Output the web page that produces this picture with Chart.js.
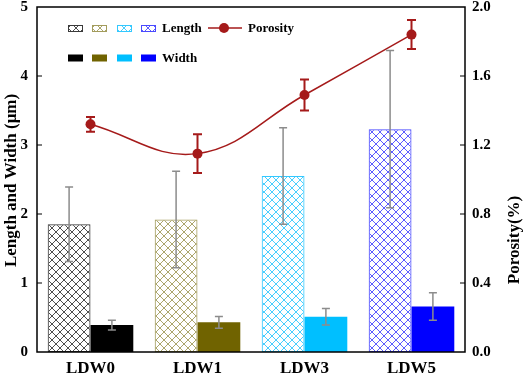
<!DOCTYPE html>
<html><head><meta charset="utf-8">
<script src="https://cdn.jsdelivr.net/npm/chart.js@4.4.0/dist/chart.umd.min.js"></script>
<style>html,body{margin:0;padding:0;background:#fff;}canvas{display:block;}</style>
</head><body>
<canvas id="c" width="526" height="375" style="width:526px;height:375px"></canvas>
<script>
const categories = ['LDW0', 'LDW1', 'LDW3', 'LDW5'];
const lengthValues = [1.85, 1.92, 2.55, 3.23];
const lengthErrors = [0.54, 0.70, 0.70, 1.14];
const widthValues = [0.39, 0.43, 0.51, 0.66];
const widthErrors = [0.07, 0.085, 0.12, 0.20];
const porosityValues = [1.32, 1.15, 1.49, 1.84];
const porosityErrors = [0.043, 0.113, 0.09, 0.084];
const leftTickValues = [0, 1, 2, 3, 4, 5];
const rightTickValues = [0, 0.4, 0.8, 1.2, 1.6, 2.0];

const hatchColors = ['#3a3a3a', '#a39c5c', '#33c8ff', '#4a4aff'];
const widthColors = ['#000000', '#706300', '#00bfff', '#0000ff'];
const poroColor = '#a51a1a';
const serif = '"Liberation Serif", "Times New Roman", serif';

function hatch(color) {
  const t = document.createElement('canvas');
  t.width = 8; t.height = 8;
  const g = t.getContext('2d');
  g.strokeStyle = color; g.lineWidth = 0.9;
  g.beginPath();
  g.moveTo(-1, -1); g.lineTo(9, 9);
  g.moveTo(-1, 9); g.lineTo(9, -1);
  g.stroke();
  return g.createPattern(t, 'repeat');
}
const hatchPatterns = hatchColors.map(hatch);

const decor = {
  id: 'decor',
  afterDatasetsDraw(chart) {
    const ctx = chart.ctx;
    const a = chart.chartArea;
    const ys = chart.scales.y, yr = chart.scales.y1;
    ctx.save();
    function eb(x, yTop, yBot, color, cap, lw) {
      ctx.strokeStyle = color; ctx.lineWidth = lw;
      ctx.beginPath();
      ctx.moveTo(x, yTop); ctx.lineTo(x, yBot);
      ctx.moveTo(x - cap, yTop); ctx.lineTo(x + cap, yTop);
      ctx.moveTo(x - cap, yBot); ctx.lineTo(x + cap, yBot);
      ctx.stroke();
    }
    const m0 = chart.getDatasetMeta(0), m1 = chart.getDatasetMeta(1), m2 = chart.getDatasetMeta(2);
    lengthValues.forEach((v, i) => {
      eb(m0.data[i].x, ys.getPixelForValue(v + lengthErrors[i]), ys.getPixelForValue(v - lengthErrors[i]), '#8c8c8c', 4, 1.5);
    });
    widthValues.forEach((v, i) => {
      eb(m1.data[i].x, ys.getPixelForValue(v + widthErrors[i]), ys.getPixelForValue(v - widthErrors[i]), '#8c8c8c', 4, 1.5);
    });
    porosityValues.forEach((v, i) => {
      eb(m2.data[i].x, yr.getPixelForValue(v + porosityErrors[i]), yr.getPixelForValue(v - porosityErrors[i]), poroColor, 4.5, 2);
    });
    ctx.strokeStyle = '#000'; ctx.lineWidth = 1.5;
    ctx.strokeRect(a.left, a.top, a.right - a.left, a.bottom - a.top);
    ctx.lineWidth = 1.2;
    ctx.beginPath();
    leftTickValues.slice(1, -1).forEach(v => {
      const y = ys.getPixelForValue(v);
      ctx.moveTo(a.left, y); ctx.lineTo(a.left + 5, y);
    });
    rightTickValues.slice(1, -1).forEach(v => {
      const y = yr.getPixelForValue(v);
      ctx.moveTo(a.right, y); ctx.lineTo(a.right - 5, y);
    });
    ctx.stroke();
    ctx.fillStyle = '#000';
    ctx.font = 'bold 17px ' + serif;
    ctx.textAlign = 'center'; ctx.textBaseline = 'middle';
    ctx.save();
    ctx.translate(12, (a.top + a.bottom) / 2 + 1);
    ctx.rotate(-Math.PI / 2);
    ctx.fillText('Length and Width (\u03bcm)', 0, 0);
    ctx.restore();
    ctx.save();
    ctx.translate(515, 240);
    ctx.rotate(-Math.PI / 2);
    ctx.fillText('Porosity(%)', 0, 0);
    ctx.restore();
    const lx = [a.left + 31, a.left + 55, a.left + 80, a.left + 104];
    const r1 = a.top + 21, r2 = a.top + 51;
    hatchColors.forEach((c, i) => {
      ctx.fillStyle = hatchPatterns[i];
      ctx.fillRect(lx[i], r1 - 3, 15, 7);
      ctx.strokeStyle = c; ctx.lineWidth = 1;
      ctx.strokeRect(lx[i] + 0.5, r1 - 3 + 0.5, 14, 6);
    });
    widthColors.forEach((c, i) => {
      ctx.fillStyle = c;
      ctx.fillRect(lx[i], r2 - 3.5, 15, 7);
    });
    ctx.fillStyle = '#000';
    ctx.font = 'bold 13px ' + serif;
    ctx.textAlign = 'left'; ctx.textBaseline = 'middle';
    ctx.fillText('Length', a.left + 125, r1 + 1);
    ctx.fillText('Width', a.left + 125, r2 + 1);
    ctx.fillText('Porosity', a.left + 211, r1 + 1);
    ctx.strokeStyle = poroColor; ctx.lineWidth = 1.5;
    ctx.beginPath(); ctx.moveTo(a.left + 171, r1); ctx.lineTo(a.left + 205, r1); ctx.stroke();
    ctx.fillStyle = poroColor;
    ctx.beginPath(); ctx.arc(a.left + 187, r1, 5, 0, Math.PI * 2); ctx.fill();
    ctx.restore();
  }
};

const tickFont = { family: serif, size: 15, weight: 'bold' };
function fixFit(size, dim) {
  return s => {
    s[dim] = size;
    s.paddingTop = 0; s.paddingBottom = 0; s.paddingLeft = 0; s.paddingRight = 0;
  };
}

new Chart(document.getElementById('c'), {
  type: 'bar',
  data: {
    labels: categories,
    datasets: [
      { label: 'Length', data: lengthValues, yAxisID: 'y', order: 1,
        backgroundColor: hatchPatterns, borderColor: hatchColors, borderWidth: 1, borderSkipped: false },
      { label: 'Width', data: widthValues, yAxisID: 'y', order: 1,
        backgroundColor: widthColors, borderColor: widthColors, borderWidth: 0 },
      { type: 'line', label: 'Porosity', data: porosityValues, yAxisID: 'y1', order: 0,
        borderColor: poroColor, backgroundColor: poroColor, borderWidth: 1.5, tension: 0.4,
        pointRadius: 5, pointBackgroundColor: poroColor, pointBorderWidth: 0 }
    ]
  },
  options: {
    responsive: false, animation: false, devicePixelRatio: 1,
    layout: { autoPadding: false, padding: { top: 7, left: 0, right: 0, bottom: 0 } },
    plugins: { legend: { display: false }, tooltip: { enabled: false } },
    datasets: { bar: { barPercentage: 1.0, categoryPercentage: 0.8 } },
    scales: {
      x: {
        grid: { display: false, drawTicks: false }, border: { display: false },
        ticks: { font: { family: serif, size: 17, weight: 'bold' }, color: '#000', padding: 6 },
        afterFit: fixFit(23, 'height')
      },
      y: {
        position: 'left', min: 0, max: 5,
        afterBuildTicks: s => { s.ticks = leftTickValues.map(v => ({ value: v })); },
        grid: { display: false, drawTicks: false }, border: { display: false },
        ticks: { font: tickFont, color: '#000', padding: 9 },
        afterFit: fixFit(37, 'width')
      },
      y1: {
        position: 'right', min: 0, max: 2,
        afterBuildTicks: s => { s.ticks = rightTickValues.map(v => ({ value: v })); },
        grid: { display: false, drawTicks: false }, border: { display: false },
        ticks: { font: tickFont, color: '#000', padding: 7, callback: v => Number(v).toFixed(1) },
        afterFit: fixFit(61, 'width')
      }
    }
  },
  plugins: [decor]
});
</script>
</body></html>
